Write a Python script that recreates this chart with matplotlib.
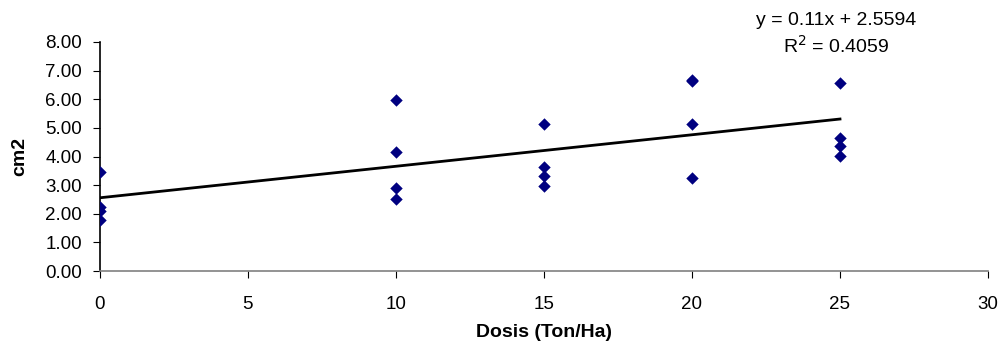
import matplotlib.pyplot as plt
import numpy as np

plt.rcParams['font.family'] = ['Liberation Sans', 'DejaVu Sans']

# dose (Ton/Ha) and area (cm2)
dosis = [0, 0, 0, 0, 10, 10, 10, 10, 15, 15, 15, 15, 20, 20, 20, 20, 25, 25, 25, 25]
cm2 = [3.45, 2.25, 2.10, 1.80, 5.98, 4.17, 2.90, 2.53, 5.14, 3.65, 3.32, 2.97,
       6.64, 6.66, 5.14, 3.25, 6.56, 4.63, 4.37, 4.02]

# trend line from the printed equation
slope = 0.11
intercept = 2.5594
r2 = 0.4059
trend_x = np.array([0, 25])

fig = plt.figure(figsize=(9.99, 3.44), dpi=100)
ax = fig.add_axes([0.1, 0.212, 0.889, 0.666])

ax.plot(trend_x, slope * trend_x + intercept, color='black', lw=2, zorder=2)
ax.scatter(dosis, cm2, marker='D', s=40, color='#000080', zorder=3, linewidths=0)

ax.set_xlim(0, 30)
ax.set_ylim(0, 8)
ax.set_xticks(range(0, 31, 5))
ax.set_yticks(range(0, 9))
ax.set_yticklabels([f'{v:.2f}' for v in range(0, 9)])
ax.tick_params(labelsize=13.5, length=5, color='black')
ax.tick_params(axis='x', pad=13)
ax.tick_params(axis='y', pad=8)
ax.spines['top'].set_visible(False)
ax.spines['right'].set_visible(False)
ax.spines['left'].set_color('black')
ax.spines['bottom'].set_color('#808080')
ax.spines['left'].set_linewidth(1.2)
ax.spines['bottom'].set_linewidth(1.2)

ax.set_xlabel('Dosis (Ton/Ha)', fontsize=14, fontweight='bold', labelpad=8)
ax.set_ylabel('cm2', fontsize=14, fontweight='bold', labelpad=12)

fig.text(0.837, 0.94, f'y = {slope}x + {intercept}', fontsize=14, ha='center', va='center')
fig.text(0.837, 0.868, f'R$^2$ = {r2}', fontsize=14, ha='center', va='center')

fig.savefig('out.png', dpi=100)
